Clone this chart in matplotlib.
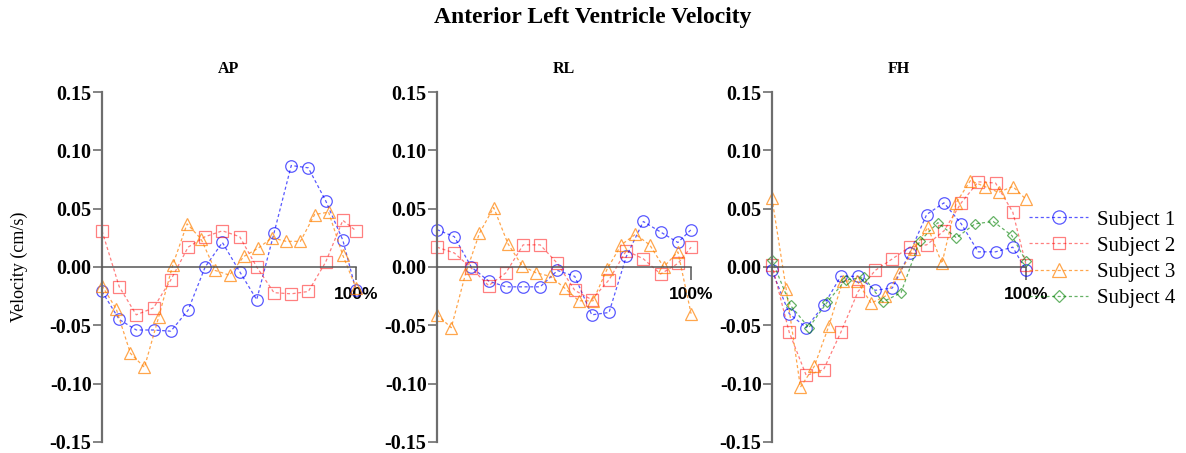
import matplotlib
matplotlib.use("Agg")
import matplotlib.pyplot as plt

plt.rcParams["font.family"] = ["Liberation Serif", "DejaVu Serif"]
plt.rcParams["axes.unicode_minus"] = False

# frame times as % of the cardiac cycle (last frame pinned to 100%)
t_s12 = [0, 6.8, 13.5, 20.3, 27.1, 33.9, 40.6, 47.4, 54.2, 60.9, 67.7, 74.5, 81.2, 88.0, 94.8, 100]
t_s3 = [0, 5.6, 11.2, 16.7, 22.3, 27.9, 33.5, 39.0, 44.6, 50.2, 55.8, 61.4, 66.9, 72.5,
        78.1, 83.7, 89.2, 94.8, 100]
t_s4 = [0, 7.3, 14.5, 21.8, 29.0, 36.3, 43.6, 50.8, 58.1, 65.3, 72.6, 79.9, 87.1, 94.4, 100]

# velocities (cm/s)
ap_s1 = [-0.021, -0.045, -0.054, -0.054, -0.055, -0.037, 0.000, 0.021, -0.004, -0.028,
         0.029, 0.087, 0.085, 0.057, 0.023, -0.020]
ap_s2 = [0.031, -0.017, -0.041, -0.035, -0.011, 0.017, 0.026, 0.031, 0.026, 0.000,
         -0.022, -0.023, -0.021, 0.004, 0.040, 0.031]
ap_s3 = [-0.016, -0.036, -0.074, -0.086, -0.043, 0.002, 0.037, 0.024, -0.003, -0.007,
         0.009, 0.016, 0.025, 0.022, 0.022, 0.045, 0.047, 0.010, -0.018]

rl_s1 = [0.032, 0.026, 0.000, -0.012, -0.017, -0.017, -0.017, -0.003, -0.008, -0.041,
         -0.039, 0.009, 0.039, 0.030, 0.021, 0.032]
rl_s2 = [0.017, 0.012, -0.001, -0.016, -0.005, 0.019, 0.019, 0.003, -0.020, -0.028,
         -0.011, 0.014, 0.007, -0.006, 0.003, 0.017]
rl_s3 = [-0.041, -0.052, -0.006, 0.029, 0.051, 0.020, 0.001, -0.005, -0.008, -0.018,
         -0.029, -0.029, -0.002, 0.019, 0.028, 0.019, 0.000, 0.013, -0.040]

fh_s1 = [-0.003, -0.040, -0.052, -0.033, -0.008, -0.008, -0.020, -0.018, 0.012, 0.045,
         0.055, 0.037, 0.013, 0.013, 0.017, -0.003]
fh_s2 = [0.002, -0.056, -0.093, -0.088, -0.056, -0.021, -0.003, 0.007, 0.017, 0.019,
         0.031, 0.055, 0.073, 0.072, 0.047, 0.002]
fh_s3 = [0.059, -0.019, -0.103, -0.085, -0.051, -0.012, -0.012, -0.031, -0.025, -0.005,
         0.015, 0.034, 0.003, 0.055, 0.074, 0.069, 0.064, 0.069, 0.058]
fh_s4 = [0.006, -0.033, -0.052, -0.030, -0.011, -0.009, -0.030, -0.022, 0.022, 0.038,
         0.025, 0.037, 0.039, 0.027, 0.005]

directions = ["AP", "RL", "FH"]
panels = {
    "AP": [(t_s12, ap_s1), (t_s12, ap_s2), (t_s3, ap_s3)],
    "RL": [(t_s12, rl_s1), (t_s12, rl_s2), (t_s3, rl_s3)],
    "FH": [(t_s12, fh_s1), (t_s12, fh_s2), (t_s3, fh_s3), (t_s4, fh_s4)],
}
subjects = ["Subject 1", "Subject 2", "Subject 3", "Subject 4"]
styles = [
    dict(color="#0000ff", marker="o", ms=8.3, alpha=0.65),
    dict(color="#ff0000", marker="s", ms=8.0, alpha=0.5),
    dict(color="#ff8000", marker="^", ms=8.3, alpha=0.7),
    dict(color="#008000", marker="D", ms=5.6, alpha=0.6),
]

fig = plt.figure(figsize=(11.86, 4.53), dpi=100)
fig.suptitle("Anterior Left Ventricle Velocity", fontsize=17, fontweight="bold", y=0.985)

lefts = [0.0860, 0.3685, 0.6509]
handles = []
for i, d in enumerate(directions):
    ax = fig.add_axes([lefts[i], 0.0243, 0.2142, 0.7726])
    for j, (t, v) in enumerate(panels[d]):
        st = styles[j]
        ln, = ax.plot(t, v, color=st["color"], marker=st["marker"], ms=st["ms"],
                      mfc="none", mec=st["color"], mew=0.9, lw=0.9,
                      ls=(0, (2.5, 2)), alpha=st["alpha"], clip_on=False,
                      label=subjects[j])
        if i == 2:
            handles.append(ln)

    # zero line acts as the time axis; move it before touching tick labels
    for s in ["top", "right"]:
        ax.spines[s].set_visible(False)
    ax.spines["bottom"].set_position(("data", 0))
    ax.spines["bottom"].set_color("#555555")
    ax.spines["bottom"].set_linewidth(1.1)
    ax.spines["left"].set_color("#6e6e6e")
    ax.spines["left"].set_linewidth(1.6)

    ax.set_xlim(0, 100)
    ax.set_ylim(-0.15, 0.15)
    ax.set_yticks([-0.15, -0.10, -0.05, 0.00, 0.05, 0.10, 0.15])
    ax.set_yticklabels(["-0.15", "-0.10", "-0.05", "0.00", "0.05", "0.10", "0.15"],
                       fontsize=14.5, fontweight="bold")
    ax.set_xticks([100])
    ax.set_xticklabels(["100%"], family="Liberation Sans", fontweight="bold", fontsize=12.5)

    ax.tick_params(axis="y", direction="out", length=6.5, width=1.2, color="#6e6e6e", pad=1)
    ax.tick_params(axis="x", direction="out", length=9.5, width=1.1, color="#555555", pad=5)
    ax.set_title(d, fontsize=11.5, fontweight="bold", pad=14)
    ax.patch.set_visible(False)

fig.text(0.016, 0.41, "Velocity (cm/s)", rotation=90, fontsize=13, va="center", ha="center")

fig.legend(handles=handles, loc="center left", bbox_to_anchor=(0.868, 0.428),
           frameon=False, fontsize=15, handlelength=2.8, handletextpad=0.45,
           labelspacing=0.32, borderpad=0, borderaxespad=0, markerscale=1.15)

fig.savefig("out.png", dpi=100)
